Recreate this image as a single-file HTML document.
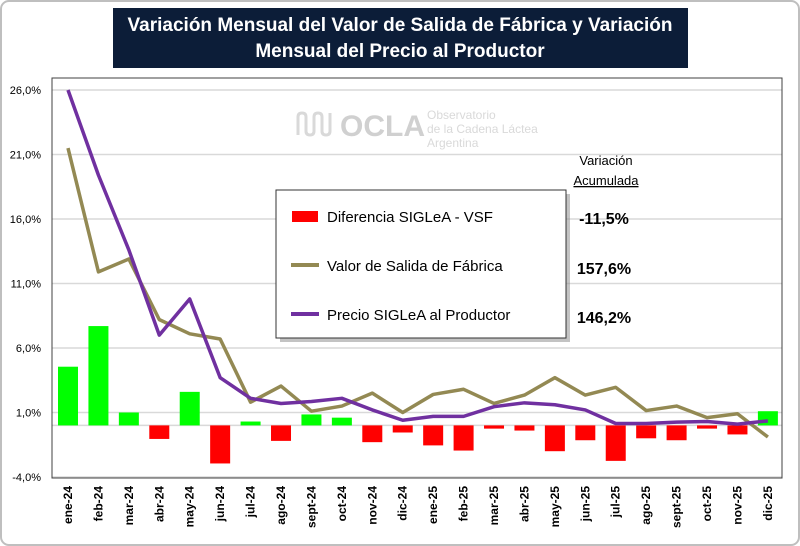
<!DOCTYPE html>
<html><head><meta charset="utf-8"><style>
body{margin:0;background:#fff;font-family:"Liberation Sans",sans-serif}
svg{display:block}
</style></head><body>
<svg width="800" height="546" viewBox="0 0 800 546">
<rect x="1" y="1" width="798" height="544" rx="8" fill="#fff" stroke="#bfbfbf" stroke-width="2"/>
<g id="grid"></g>
<g id="watermark" fill="#d9d9d9">
<path d="M298 135 v-18 q0-4 4-4 q4 0 4 4 v14 q0 4 4 4 q4 0 4-4 v-14 q0-4 4-4 q4 0 4 4 v14 q0 4 4 4 q4 0 4-4 v-18" fill="none" stroke="#d9d9d9" stroke-width="3"/>
<text x="340" y="136" font-size="30" font-weight="bold" fill="#d0d0d0">OCLA</text>
<text x="427" y="119" font-size="12">Observatorio</text>
<text x="427" y="133" font-size="12">de la Cadena Láctea</text>
<text x="427" y="147" font-size="12">Argentina</text>
</g>
<g id="bars"></g>
<g id="lines"></g>
<line x1="52" y1="78" x2="52" y2="478" stroke="#404040" stroke-width="1"/>
<rect x="52" y="78" width="730" height="400" fill="none" stroke="#404040" stroke-width="1"/>
<g id="yticks" font-size="11" fill="#000" text-anchor="end"></g>
<g id="xticks" font-size="12" font-weight="bold" fill="#000"></g>
<rect x="113" y="8" width="575" height="60" fill="#0c1d38"/>
<text x="400" y="31" text-anchor="middle" font-size="19" font-weight="bold" fill="#fff"><tspan x="400">Variación Mensual del Valor de Salida de Fábrica y Variación</tspan><tspan x="400" dy="26">Mensual del Precio al Productor</tspan></text>
<g>
<rect x="280" y="194" width="290" height="148" fill="#888" opacity="0.5"/>
<rect x="276" y="190" width="290" height="148" fill="#fff" stroke="#333" stroke-width="1"/>
<rect x="292" y="211" width="26" height="11" fill="#ff0000"/>
<text x="327" y="222" font-size="15">Diferencia SIGLeA - VSF</text>
<line x1="291" y1="265" x2="319" y2="265" stroke="#938953" stroke-width="4"/>
<text x="327" y="271" font-size="15">Valor de Salida de Fábrica</text>
<line x1="291" y1="314" x2="319" y2="314" stroke="#7030a0" stroke-width="4"/>
<text x="327" y="320" font-size="15">Precio SIGLeA al Productor</text>
</g>
<text x="606" y="165" text-anchor="middle" font-size="13">Variación</text>
<text x="606" y="185" text-anchor="middle" font-size="13" text-decoration="underline">Acumulada</text>
<text x="604" y="224" text-anchor="middle" font-size="16" font-weight="bold">-11,5%</text>
<text x="604" y="274" text-anchor="middle" font-size="16" font-weight="bold">157,6%</text>
<text x="604" y="323" text-anchor="middle" font-size="16" font-weight="bold">146,2%</text>
</svg>
<script>
const categories=["ene-24","feb-24","mar-24","abr-24","may-24","jun-24","jul-24","ago-24","sept-24","oct-24","nov-24","dic-24","ene-25","feb-25","mar-25","abr-25","may-25","jun-25","jul-25","ago-25","sept-25","oct-25","nov-25","dic-25"];
const diferencia=[4.55,7.7,1.0,-1.05,2.6,-2.95,0.3,-1.2,0.85,0.6,-1.3,-0.55,-1.55,-1.95,-0.25,-0.4,-2.0,-1.15,-2.75,-1.0,-1.15,-0.25,-0.7,1.1];
const vsf=[21.5,11.9,12.9,8.2,7.1,6.7,1.8,3.05,1.1,1.5,2.5,1.0,2.4,2.8,1.7,2.35,3.7,2.35,2.95,1.15,1.5,0.6,0.9,-0.9];
const precio=[26.0,19.4,13.6,7.0,9.8,3.7,2.1,1.7,1.85,2.1,1.2,0.4,0.7,0.7,1.45,1.75,1.6,1.2,0.15,0.15,0.25,0.3,0.1,0.35];
const yTicks=[-4,1,6,11,16,21,26];
const yTickLabels=["-4,0%","1,0%","6,0%","11,0%","16,0%","21,0%","26,0%"];
const NS="http://www.w3.org/2000/svg";
function y(v){return 425.4-(v)*12.9;}
function x(i){return 68+i*30.43;}
function mk(t,a,p){const e=document.createElementNS(NS,t);for(const k in a)e.setAttribute(k,a[k]);p.appendChild(e);return e;}
const grid=document.getElementById('grid'),yt=document.getElementById('yticks'),xt=document.getElementById('xticks');
yTicks.forEach((v,i)=>{
 const l=mk('line',{x1:52,x2:782,y1:y(v),y2:y(v),stroke:'#d9d9d9','stroke-width':1.5},grid);
 
 
 const t=mk('text',{x:41,y:y(v)+4},yt);t.textContent=yTickLabels[i];
 
 
});
const zl=mk('line',{x1:52,x2:782,y1:y(0),y2:y(0),stroke:'#d9d9d9','stroke-width':1.5},grid);


const bars=document.getElementById('bars');
diferencia.forEach((v,i)=>{
 const top=Math.min(y(v),y(0)),h=Math.abs(y(v)-y(0));
 const r=mk('rect',{x:x(i)-10,y:top,width:20,height:h,fill:v>=0?'#00ff00':'#ff0000'},bars);
 
 
});
const lines=document.getElementById('lines');
function line(arr,c,n){
 const p=mk('polyline',{points:arr.map((v,i)=>x(i)+','+y(v)).join(' '),fill:'none',stroke:c,'stroke-width':3.5,'stroke-linejoin':'round'},lines);
 
 
}
line(vsf,'#938953','line-vsf');
line(precio,'#7030a0','line-precio');
categories.forEach((c,i)=>{
 const t=mk('text',{transform:'translate('+(x(i)+4)+',486) rotate(-90)','text-anchor':'end'},xt);
 t.textContent=c;
 
 
});
</script>
</body></html>
